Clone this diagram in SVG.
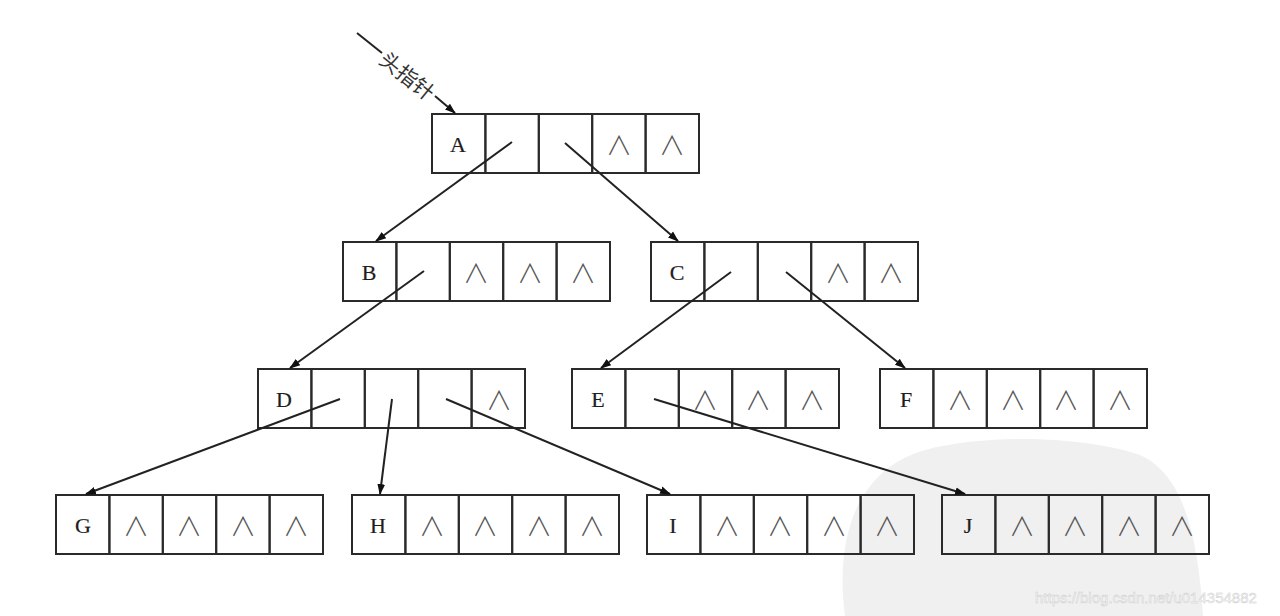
<svg xmlns="http://www.w3.org/2000/svg" width="1280" height="616" viewBox="0 0 1280 616">
<style>
.cell{fill:none;stroke:#2a2a2a;stroke-width:2}
.lbl{font-family:"Liberation Serif","DejaVu Serif",serif;font-size:22px;fill:#1e1e1e;text-anchor:middle;dominant-baseline:central;stroke:#1e1e1e;stroke-width:0.2}
.nil{font-family:"Noto Sans CJK SC","DejaVu Sans",sans-serif;font-weight:300;font-size:26px;fill:#555;text-anchor:middle;dominant-baseline:central}
.edge{fill:none;stroke:#222;stroke-width:2}
.wm{font-family:"Liberation Sans",Arial,sans-serif;font-size:15px;fill:#f6f6f6;stroke:#c8c8c8;stroke-width:0.4}
</style>
<defs>
<marker id="ah" viewBox="0 0 10 10" refX="9" refY="5" markerWidth="11" markerHeight="11" markerUnits="userSpaceOnUse" orient="auto">
<path d="M0,1.5 L10,5 L0,8.5 Z" fill="#111"/>
</marker>
<g id="row5">
<rect class="cell" x="0" y="0" width="53.4" height="59"/>
<rect class="cell" x="53.4" y="0" width="53.4" height="59"/>
<rect class="cell" x="106.8" y="0" width="53.4" height="59"/>
<rect class="cell" x="160.2" y="0" width="53.4" height="59"/>
<rect class="cell" x="213.6" y="0" width="53.4" height="59"/>
</g>
</defs>
<rect width="1280" height="616" fill="#fff"/>
<path d="M845,616 C835,540 855,470 925,450 C995,432 1090,438 1140,455 C1185,475 1198,540 1203,616 Z" fill="#f0f0f0"/>

<g id="A"><use href="#row5" x="432" y="114"/><text class="lbl" x="458" y="144">A</text><text class="nil" x="619" y="143">∧</text><text class="nil" x="672" y="143">∧</text></g>
<g id="B"><use href="#row5" x="343" y="242"/><text class="lbl" x="369" y="272">B</text><text class="nil" x="476" y="271">∧</text><text class="nil" x="530" y="271">∧</text><text class="nil" x="583" y="271">∧</text></g>
<g id="C"><use href="#row5" x="651" y="242"/><text class="lbl" x="677" y="272">C</text><text class="nil" x="838" y="271">∧</text><text class="nil" x="891" y="271">∧</text></g>
<g id="D"><use href="#row5" x="258" y="369"/><text class="lbl" x="284" y="399">D</text><text class="nil" x="499" y="398">∧</text></g>
<g id="E"><use href="#row5" x="572" y="369"/><text class="lbl" x="598" y="399">E</text><text class="nil" x="705" y="398">∧</text><text class="nil" x="758" y="398">∧</text><text class="nil" x="812" y="398">∧</text></g>
<g id="F"><use href="#row5" x="880" y="369"/><text class="lbl" x="906" y="399">F</text><text class="nil" x="960" y="398">∧</text><text class="nil" x="1013" y="398">∧</text><text class="nil" x="1066" y="398">∧</text><text class="nil" x="1120" y="398">∧</text></g>
<g id="G"><use href="#row5" x="56" y="495"/><text class="lbl" x="83" y="525">G</text><text class="nil" x="136" y="524">∧</text><text class="nil" x="189" y="524">∧</text><text class="nil" x="243" y="524">∧</text><text class="nil" x="296" y="524">∧</text></g>
<g id="H"><use href="#row5" x="352" y="495"/><text class="lbl" x="378" y="525">H</text><text class="nil" x="432" y="524">∧</text><text class="nil" x="485" y="524">∧</text><text class="nil" x="539" y="524">∧</text><text class="nil" x="592" y="524">∧</text></g>
<g id="I"><use href="#row5" x="647" y="495"/><text class="lbl" x="673" y="525">I</text><text class="nil" x="727" y="524">∧</text><text class="nil" x="780" y="524">∧</text><text class="nil" x="834" y="524">∧</text><text class="nil" x="887" y="524">∧</text></g>
<g id="J"><use href="#row5" x="942" y="495"/><text class="lbl" x="968" y="525">J</text><text class="nil" x="1022" y="524">∧</text><text class="nil" x="1075" y="524">∧</text><text class="nil" x="1129" y="524">∧</text><text class="nil" x="1182" y="524">∧</text></g>

<g id="connectors">
<line class="edge" x1="357" y1="33" x2="382" y2="53"/>
<line class="edge" x1="435" y1="96" x2="455" y2="113" marker-end="url(#ah)"/>
<line class="edge" x1="512" y1="142" x2="376" y2="241" marker-end="url(#ah)"/>
<line class="edge" x1="565" y1="143" x2="678" y2="241" marker-end="url(#ah)"/>
<line class="edge" x1="424" y1="271" x2="290" y2="368" marker-end="url(#ah)"/>
<line class="edge" x1="731" y1="272" x2="601" y2="368" marker-end="url(#ah)"/>
<line class="edge" x1="786" y1="272" x2="905" y2="368" marker-end="url(#ah)"/>
<line class="edge" x1="340" y1="399" x2="86" y2="494" marker-end="url(#ah)"/>
<line class="edge" x1="392" y1="399" x2="380" y2="494" marker-end="url(#ah)"/>
<line class="edge" x1="446" y1="399" x2="670" y2="494" marker-end="url(#ah)"/>
<line class="edge" x1="654" y1="399" x2="965" y2="494" marker-end="url(#ah)"/>
</g>
<text x="408" y="75" transform="rotate(39 408 75)" font-family="'Noto Sans CJK SC',sans-serif" font-size="21" fill="#333" text-anchor="middle" dominant-baseline="central">头指针</text>
<text class="wm" x="1035" y="603">https://blog.csdn.net/u014354882</text>
</svg>
